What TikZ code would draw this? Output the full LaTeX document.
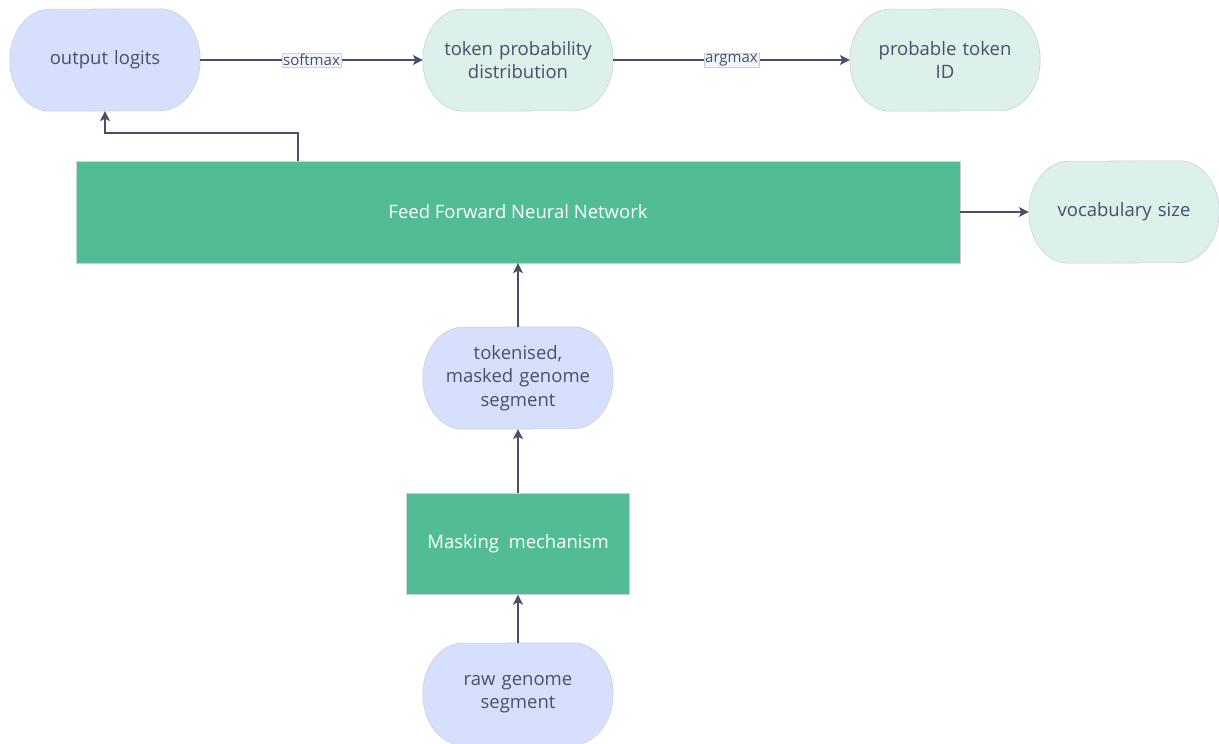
\documentclass[tikz,border=0pt]{standalone}
\usepackage{fontspec}
\setmainfont{Open Sans}
\usetikzlibrary{arrows.meta,backgrounds}
\definecolor{inkc}{HTML}{475069}
\definecolor{bluefill}{HTML}{D6E0FD}
\definecolor{greenfill}{HTML}{DCF1E9}
\definecolor{boxfill}{HTML}{52BD94}
\definecolor{rimc}{HTML}{CBD0D6}
\definecolor{labfill}{HTML}{F1F4FA}
\tikzset{
  pill/.style={rectangle, minimum width=190pt, minimum height=102pt, align=center,
    text=inkc, font=\fontsize{18.5}{23.5}\selectfont, inner sep=0pt, text width=180pt},
  pillrim/.style={draw=rimc, line width=0.6pt},
  stagebox/.style={rectangle, fill=boxfill, draw=rimc, line width=0.4pt, text=white,
    font=\fontsize{18.5}{23.5}\selectfont, align=center, inner sep=0pt},
  conn/.style={draw=inkc, line width=1.2pt, -{Stealth[length=10pt,width=10pt,inset=2.5pt]}},
  edgelabel/.style={fill=labfill, draw=rimc, line width=0.4pt, text=inkc,
    font=\fontsize{15}{17}\selectfont, inner sep=1.2pt}
}
% capsule outline with elliptical ends around a named node
\newcommand\capsule[2]{%
  \path[pillrim, fill=#2] ([xshift=-40pt]#1.north east)
    arc[start angle=90, end angle=-90, x radius=40pt, y radius=51pt]
    -- ([xshift=40pt]#1.south west)
    arc[start angle=270, end angle=90, x radius=40pt, y radius=51pt] -- cycle;}
\begin{document}
\begin{tikzpicture}[x=1pt,y=1pt]
\useasboundingbox (0,0) rectangle (1219,-744);
% top row: outputs
\node[pill] (logits) at (105,-60)  {output logits};
\node[pill] (dist)   at (518,-60)  {token probability\\distribution};
\node[pill] (tokid)  at (945,-60)  {probable token\\ID};
% network and its output width
\node[stagebox, minimum width=884pt, minimum height=102pt] (ffn) at (518,-212) {Feed Forward Neural Network};
\node[pill] (vocab) at (1124,-212) {vocabulary size};
% input pipeline
\node[pill] (masked) at (518,-378) {tokenised,\\masked genome\\segment};
\node[stagebox, minimum width=223pt, minimum height=101pt] (mask) at (518,-544) {Masking\ \ mechanism};
\node[pill] (raw) at (518,-694) {raw genome\\segment};
\begin{pgfonlayer}{background}
  \capsule{logits}{bluefill}
  \capsule{dist}{greenfill}
  \capsule{tokid}{greenfill}
  \capsule{vocab}{greenfill}
  \capsule{masked}{bluefill}
  \capsule{raw}{bluefill}
\end{pgfonlayer}
% connectors
\coordinate (ffnout) at (298,-161);
\draw[conn] (ffnout) -- (298,-133) -| (logits.south);
\draw[conn] (logits.east) -- node[edgelabel]{softmax} (dist.west);
\draw[conn] (dist.east) -- node[edgelabel]{argmax} (tokid.west);
\draw[conn] (ffn.east) -- (vocab.west);
\draw[conn] (masked.north) -- (ffn.south);
\draw[conn] (mask.north) -- (masked.south);
\draw[conn] (raw.north) -- (mask.south);
\end{tikzpicture}
\end{document}
